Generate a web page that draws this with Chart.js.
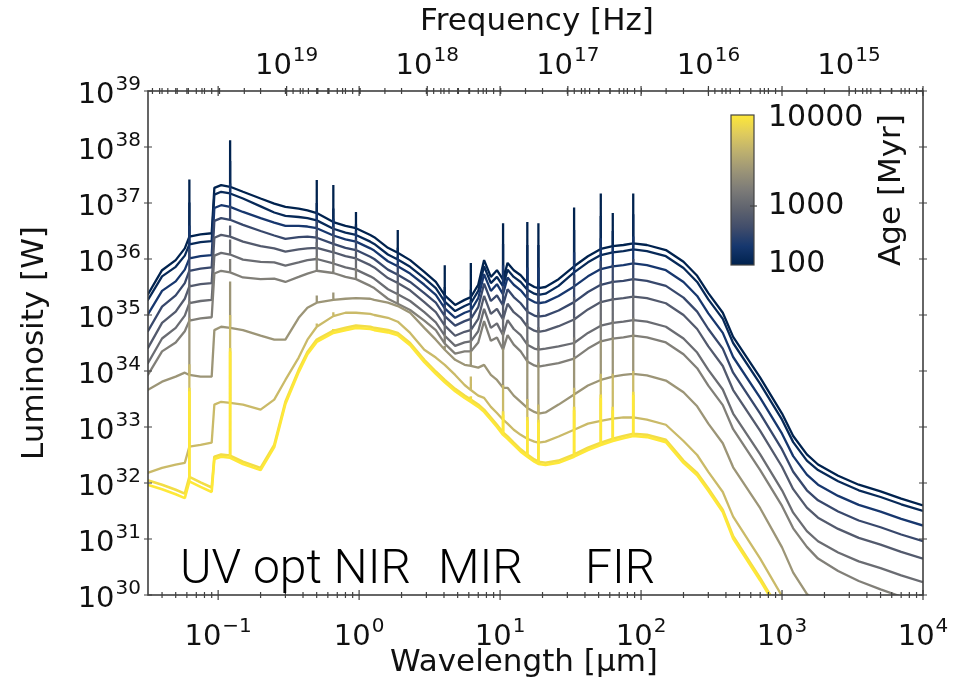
<!DOCTYPE html>
<html>
<head>
<meta charset="utf-8">
<title>SED vs age</title>
<script src="https://cdn.jsdelivr.net/npm/chart.js@4.4.0/dist/chart.umd.min.js"></script>
<style>
  html, body { margin: 0; padding: 0; background: #fff; }
  #wrap { width: 962px; height: 687px; }
</style>
</head>
<body>
<div id="wrap"><canvas id="sed" width="962" height="687"></canvas></div>
<script>
// wavelength grid [micron]
var wavelengths = [
  0.0316, 0.04, 0.05, 0.058, 0.0625, 0.075, 0.09, 0.094, 0.105, 0.1216,
  0.15, 0.2, 0.25, 0.3, 0.3727, 0.43, 0.5007, 0.6563, 0.8, 0.95,
  1.2, 1.28, 1.6, 1.88, 2.3, 2.9, 3.5, 4.05, 4.8, 5.6,
  6.2, 7.0, 7.7, 8.6, 9.5, 10.5, 11.3, 12.5, 14, 15.6,
  17.5, 18.7, 21, 26, 33.5, 42, 51.8, 63, 75, 88,
  110, 150, 200, 250, 300, 380, 450, 700, 1000, 1200, 1500, 1800, 2500, 3500, 5000, 7000, 10000
];

// emission lines (they sit on grid points)
var lineWavelengths = [0.0625, 0.1216, 0.5007, 0.6563, 0.95, 1.88, 4.05, 6.2, 10.5, 15.6, 18.7, 33.5, 51.8, 63, 88];

// ages of the models [Myr]
var ages = [100, 120, 180, 280, 450, 700, 1100, 1800, 4000, 8000, 10000];

// log10 luminosity [W] on the grid, one array per age
var logLum100 = [
  35.36, 35.80, 35.98, 36.19, 36.40, 36.44, 36.46, 37.27, 37.32, 37.29,
  37.20, 37.08, 36.99, 36.93, 36.90, 36.87, 36.82, 36.66, 36.59, 36.55,
  36.43, 36.39, 36.20, 36.11, 35.98, 35.77, 35.59, 35.35, 35.18, 35.27,
  35.32, 35.54, 35.98, 35.68, 35.80, 35.63, 35.93, 35.80, 35.71, 35.57,
  35.50, 35.48, 35.50, 35.64, 35.87, 36.05, 36.18, 36.23, 36.25, 36.28,
  36.25, 36.16, 35.95, 35.70, 35.39, 35.04, 34.61, 33.88, 33.24, 32.84, 32.51, 32.33, 32.13, 31.97, 31.85, 31.72, 31.60
];
var logLum120 = [
  35.26, 35.69, 35.86, 36.06, 36.26, 36.30, 36.32, 37.15, 37.20, 37.17,
  37.08, 36.94, 36.83, 36.77, 36.75, 36.73, 36.69, 36.54, 36.47, 36.43,
  36.31, 36.27, 36.08, 35.99, 35.86, 35.66, 35.48, 35.24, 35.07, 35.16,
  35.21, 35.43, 35.87, 35.57, 35.68, 35.51, 35.81, 35.68, 35.59, 35.45,
  35.38, 35.36, 35.38, 35.52, 35.76, 35.94, 36.07, 36.12, 36.14, 36.17,
  36.14, 36.05, 35.84, 35.59, 35.28, 34.93, 34.50, 33.77, 33.13, 32.73, 32.40, 32.23, 32.03, 31.87, 31.75, 31.62, 31.50
];
var logLum180 = [
  35.00, 35.43, 35.60, 35.81, 36.01, 36.05, 36.07, 36.91, 36.96, 36.93,
  36.84, 36.73, 36.65, 36.59, 36.59, 36.58, 36.55, 36.42, 36.35, 36.31,
  36.19, 36.15, 35.96, 35.87, 35.74, 35.54, 35.36, 35.12, 34.95, 35.04,
  35.08, 35.30, 35.73, 35.43, 35.55, 35.37, 35.67, 35.54, 35.44, 35.30,
  35.23, 35.21, 35.23, 35.34, 35.51, 35.69, 35.82, 35.87, 35.89, 35.92,
  35.89, 35.80, 35.59, 35.34, 35.03, 34.68, 34.25, 33.52, 32.88, 32.48, 32.15, 31.97, 31.77, 31.61, 31.49, 31.36, 31.24
];
var logLum280 = [
  34.70, 35.15, 35.35, 35.57, 35.79, 35.83, 35.85, 36.68, 36.73, 36.70,
  36.61, 36.50, 36.42, 36.36, 36.39, 36.40, 36.38, 36.27, 36.20, 36.16,
  36.04, 36.00, 35.81, 35.72, 35.59, 35.39, 35.22, 34.98, 34.81, 34.89,
  34.93, 35.14, 35.56, 35.25, 35.35, 35.17, 35.46, 35.32, 35.21, 35.06,
  34.99, 34.97, 34.99, 35.08, 35.23, 35.41, 35.54, 35.59, 35.61, 35.64,
  35.61, 35.52, 35.31, 35.06, 34.75, 34.40, 33.97, 33.24, 32.60, 32.20, 31.87, 31.69, 31.49, 31.33, 31.21, 31.08, 30.96
];
var logLum450 = [
  34.40, 34.86, 35.06, 35.29, 35.51, 35.55, 35.57, 36.38, 36.43, 36.40,
  36.31, 36.23, 36.19, 36.13, 36.17, 36.19, 36.20, 36.12, 36.05, 36.01,
  35.89, 35.85, 35.66, 35.57, 35.44, 35.23, 35.05, 34.81, 34.63, 34.70,
  34.73, 34.93, 35.34, 35.02, 35.11, 34.92, 35.20, 35.05, 34.95, 34.79,
  34.72, 34.70, 34.72, 34.80, 34.92, 35.10, 35.23, 35.28, 35.30, 35.33,
  35.30, 35.21, 35.00, 34.75, 34.44, 34.09, 33.66, 32.93, 32.29, 31.89, 31.56, 31.38, 31.18, 31.02, 30.90, 30.77, 30.65
];
var logLum700 = [
  34.13, 34.58, 34.77, 34.99, 35.21, 35.25, 35.27, 36.06, 36.11, 36.08,
  35.99, 35.95, 35.94, 35.88, 35.94, 35.98, 36.00, 35.92, 35.85, 35.81,
  35.69, 35.65, 35.46, 35.37, 35.25, 35.05, 34.87, 34.63, 34.45, 34.51,
  34.53, 34.71, 35.11, 34.77, 34.85, 34.64, 34.91, 34.75, 34.64, 34.47,
  34.40, 34.38, 34.40, 34.44, 34.50, 34.68, 34.81, 34.86, 34.88, 34.91,
  34.88, 34.79, 34.58, 34.33, 34.02, 33.67, 33.24, 32.51, 31.87, 31.47, 31.14, 30.96, 30.76, 30.60, 30.48, 30.35, 30.23
];
var logLum1100 = [
  33.92, 34.35, 34.51, 34.71, 34.90, 34.94, 34.96, 35.74, 35.79, 35.76,
  35.67, 35.64, 35.65, 35.59, 35.68, 35.74, 35.79, 35.75, 35.68, 35.64,
  35.52, 35.48, 35.29, 35.20, 35.09, 34.90, 34.73, 34.49, 34.31, 34.35,
  34.35, 34.51, 34.89, 34.54, 34.60, 34.38, 34.64, 34.47, 34.35, 34.17,
  34.10, 34.08, 34.10, 34.14, 34.22, 34.40, 34.53, 34.58, 34.60, 34.63,
  34.60, 34.51, 34.30, 34.05, 33.74, 33.39, 32.96, 32.23, 31.59, 31.19, 30.86, 30.65, 30.43, 30.25, 30.10, 29.97, 29.85
];
var logLum1800 = [
  33.66, 33.81, 33.90, 33.97, 33.93, 33.90, 33.90, 34.73, 34.79, 34.77,
  34.73, 34.63, 34.56, 34.56, 34.95, 35.13, 35.22, 35.27, 35.29, 35.30,
  35.29, 35.27, 35.22, 35.16, 35.04, 34.77, 34.56, 34.38, 34.20, 34.11,
  34.09, 34.06, 34.11, 33.93, 33.84, 33.70, 33.70, 33.56, 33.45, 33.34,
  33.27, 33.24, 33.26, 33.40, 33.58, 33.74, 33.84, 33.90, 33.93, 33.95,
  33.92, 33.83, 33.62, 33.37, 33.06, 32.71, 32.28, 31.55, 30.85, 30.40, 30.02, 29.84, 29.65, 29.47, 29.35, 29.22, 29.10
];
var logLum4000 = [
  32.18, 32.27, 32.33, 32.36, 32.65, 32.68, 32.72, 33.40, 33.45, 33.43,
  33.40, 33.31, 33.49, 33.84, 34.24, 34.56, 34.79, 34.98, 35.04, 35.04,
  35.02, 35.00, 34.95, 34.88, 34.68, 34.38, 34.24, 34.11, 33.93, 33.75,
  33.66, 33.56, 33.52, 33.36, 33.25, 33.13, 33.06, 32.95, 32.86, 32.79,
  32.74, 32.72, 32.74, 32.83, 32.95, 33.06, 33.11, 33.15, 33.17, 33.17,
  33.13, 33.04, 32.75, 32.50, 32.20, 31.84, 31.40, 30.65, 29.98, 29.59, 29.30, 29.09, 28.90, 28.73, 28.60, 28.48, 28.35
];
var logLum8000 = [
  32.05, 31.97, 31.88, 31.81, 32.11, 32.01, 31.92, 32.47, 32.51, 32.49,
  32.38, 32.27, 32.68, 33.45, 34.02, 34.34, 34.56, 34.72, 34.77, 34.81,
  34.79, 34.77, 34.73, 34.68, 34.50, 34.20, 33.99, 33.84, 33.68, 33.56,
  33.49, 33.40, 33.31, 33.17, 33.04, 32.90, 32.83, 32.72, 32.60, 32.51,
  32.42, 32.38, 32.36, 32.40, 32.51, 32.63, 32.72, 32.79, 32.84, 32.88,
  32.86, 32.77, 32.40, 32.18, 31.90, 31.52, 31.05, 30.30, 29.65, 29.27, 29.00, 28.78, 28.60, 28.45, 28.30, 28.17, 28.05
];
var logLum10000 = [
  31.97, 31.89, 31.80, 31.73, 32.03, 31.93, 31.84, 32.43, 32.47, 32.45,
  32.34, 32.23, 32.64, 33.41, 33.98, 34.30, 34.52, 34.68, 34.73, 34.77,
  34.75, 34.73, 34.69, 34.64, 34.46, 34.16, 33.95, 33.80, 33.64, 33.52,
  33.45, 33.36, 33.27, 33.13, 33.00, 32.86, 32.79, 32.68, 32.56, 32.47,
  32.38, 32.34, 32.32, 32.36, 32.47, 32.59, 32.68, 32.75, 32.80, 32.84,
  32.82, 32.73, 32.36, 32.14, 31.86, 31.48, 31.01, 30.26, 29.61, 29.23, 28.96, 28.74, 28.56, 28.41, 28.26, 28.13, 28.01
];

// log10 peak luminosity of each emission line, per age
var linePeak100   = [37.42, 38.12, 37.41, 37.32, 36.84, 36.52, 35.89, 35.93, 36.64, 36.66, 36.64, 36.92, 37.17, 36.82, 37.17];
var linePeak120   = [37.01, 37.75, 37.00, 36.90, 36.62, 36.20, 35.50, 35.45, 36.27, 36.25, 36.25, 36.52, 36.77, 36.50, 36.80];
var linePeak180   = [36.60, 37.35, 36.85, 36.72, 36.50, 36.05, 35.35, 35.25, 35.89, 35.85, 35.85, 36.12, 36.37, 36.20, 36.40];
var linePeak280   = [36.18, 36.95, 36.68, 36.58, 36.36, 35.92, 35.18, 35.10, 35.52, 35.45, 35.45, 35.72, 35.97, 35.90, 36.00];
var linePeak450   = [35.80, 36.60, 36.50, 36.42, 36.20, 35.76, 35.00, 34.95, 35.20, 35.10, 35.05, 35.32, 35.60, 35.62, 35.66];
var linePeak700   = [35.55, 36.35, 36.30, 36.22, 36.02, 35.58, 34.82, 34.75, 34.95, 34.85, 34.78, 34.95, 35.25, 35.30, 35.35];
var linePeak1100  = [35.25, 36.00, 36.05, 36.00, 35.84, 35.38, 34.65, 34.55, 34.70, 34.55, 34.45, 34.60, 34.90, 34.90, 34.95];
var linePeak1800  = [34.95, 35.60, 35.35, 35.40, 35.30, 35.16, 34.45, 34.35, 34.40, 34.20, 34.15, 34.25, 34.55, 34.60, 34.65];
var linePeak4000  = [34.12, 35.00, 34.85, 35.05, 35.04, 34.88, 34.11, 33.90, 33.75, 33.50, 33.40, 33.70, 33.95, 33.95, 34.00];
var linePeak8000  = [33.70, 34.41, 34.56, 34.75, 34.81, 34.68, 33.84, 33.55, 33.28, 33.18, 33.13, 33.36, 33.58, 33.36, 33.63];
var linePeak10000 = [33.64, 34.35, 34.52, 34.70, 34.77, 34.64, 33.80, 33.50, 33.22, 33.12, 33.08, 33.30, 33.52, 33.30, 33.57];

var continua = [logLum100, logLum120, logLum180, logLum280, logLum450, logLum700,
                logLum1100, logLum1800, logLum4000, logLum8000, logLum10000];
var peaks = [linePeak100, linePeak120, linePeak180, linePeak280, linePeak450, linePeak700,
             linePeak1100, linePeak1800, linePeak4000, linePeak8000, linePeak10000];

// cividis-like colour map
var cividisStops = [
  [0.000, [0, 34, 78]],
  [0.125, [22, 55, 110]],
  [0.250, [65, 77, 107]],
  [0.375, [95, 99, 110]],
  [0.500, [124, 123, 120]],
  [0.625, [155, 148, 119]],
  [0.750, [188, 175, 111]],
  [0.875, [223, 203, 93]],
  [1.000, [254, 232, 56]]
];
function cividis(t) {
  t = Math.max(0, Math.min(1, t));
  for (var i = 1; i < cividisStops.length; i++) {
    if (t <= cividisStops[i][0]) {
      var a = cividisStops[i - 1], b = cividisStops[i];
      var f = (t - a[0]) / (b[0] - a[0]);
      var c = [0, 1, 2].map(function (k) { return Math.round(a[1][k] + f * (b[1][k] - a[1][k])); });
      return 'rgb(' + c.join(',') + ')';
    }
  }
  return 'rgb(254,232,56)';
}
function ageToT(age) { return Math.log10(age / 100) / 2; }

function buildPoints(cont, peak) {
  var pts = [];
  for (var i = 0; i < wavelengths.length; i++) {
    var wl = wavelengths[i];
    pts.push({x: wl, y: Math.pow(10, cont[i])});
    var j = lineWavelengths.indexOf(wl);
    if (j >= 0) {
      pts.push({x: wl, y: Math.pow(10, peak[j])});
      pts.push({x: wl, y: Math.pow(10, cont[i])});
    }
  }
  return pts;
}

var datasets = [];
for (var k = 0; k < ages.length; k++) {
  datasets.push({
    label: ages[k] + ' Myr',
    data: buildPoints(continua[k], peaks[k]),
    borderColor: cividis(ageToT(ages[k])),
    borderWidth: k >= 9 ? 2.6 : 2.3,
    pointRadius: 0,
    fill: false,
    order: ages.length - k   // older (yellow) drawn on top
  });
}

var FONT = '"DejaVu Sans", sans-serif';

// "10" with a superscript exponent
function drawPower(ctx, exp, x, y, align) {
  ctx.textAlign = 'left';
  ctx.textBaseline = 'alphabetic';
  ctx.font = '29px ' + FONT;
  var wb = ctx.measureText('10').width;
  ctx.font = '20px ' + FONT;
  var ws = ctx.measureText(exp).width;
  var total = wb + ws + 1;
  var left = align === 'right' ? x - total : x - total / 2;
  ctx.font = '29px ' + FONT;
  ctx.fillText('10', left, y);
  ctx.font = '20px ' + FONT;
  ctx.fillText(exp, left + wb + 1, y - 13);
}
function expText(e) { return (e < 0 ? '\u2212' : '') + Math.abs(e); }

var decorPlugin = {
  id: 'decor',
  afterDraw: function (chart) {
    var ctx = chart.ctx, a = chart.chartArea;
    var xs = chart.scales.x, xt = chart.scales.x2, ys = chart.scales.y;
    ctx.save();
    ctx.strokeStyle = '#404040';
    ctx.fillStyle = '#111';

    // frame
    ctx.lineWidth = 1.6;
    ctx.strokeRect(a.left, a.top, a.right - a.left, a.bottom - a.top);

    // wavelength ticks (bottom, mirrored on top)
    ctx.lineWidth = 1.2;
    ctx.beginPath();
    for (var e = -2; e <= 4; e++) {
      for (var m = 1; m <= 9; m++) {
        var v = m * Math.pow(10, e);
        if (v < xs.min || v > xs.max) continue;
        var px = xs.getPixelForValue(v);
        var len = m === 1 ? 5 : 3;
        ctx.moveTo(px, a.bottom - len); ctx.lineTo(px, a.bottom + len);
        ctx.moveTo(px, a.top - len); ctx.lineTo(px, a.top + len);
      }
    }
    // frequency ticks (top)
    for (var f = 14; f <= 20; f++) {
      for (var n = 1; n <= 9; n++) {
        var fv = n * Math.pow(10, f);
        if (fv < xt.min || fv > xt.max) continue;
        var fx = xt.getPixelForValue(fv);
        var fl = n === 1 ? 5 : 3;
        ctx.moveTo(fx, a.top - fl); ctx.lineTo(fx, a.top + fl);
      }
    }
    // luminosity ticks (left and right)
    for (var p = 30; p <= 39; p++) {
      var py = ys.getPixelForValue(Math.pow(10, p));
      ctx.moveTo(a.left - 4, py); ctx.lineTo(a.left + 4, py);
      ctx.moveTo(a.right - 4, py); ctx.lineTo(a.right + 4, py);
    }
    ctx.stroke();

    // tick labels
    for (var yl = 30; yl <= 39; yl++) {
      drawPower(ctx, String(yl), 141, ys.getPixelForValue(Math.pow(10, yl)) + 12, 'right');
    }
    for (var xl = -1; xl <= 4; xl++) {
      drawPower(ctx, expText(xl), xs.getPixelForValue(Math.pow(10, xl)), 645, 'center');
    }
    for (var tl = 15; tl <= 19; tl++) {
      drawPower(ctx, String(tl), xt.getPixelForValue(Math.pow(10, tl)), 74, 'center');
    }

    // axis titles
    ctx.font = '31px ' + FONT;
    ctx.textAlign = 'center';
    ctx.textBaseline = 'middle';
    ctx.fillText('Wavelength [\u03bcm]', 524, 663);
    ctx.fillText('Frequency [Hz]', 537, 22);
    ctx.save();
    ctx.translate(35, 343);
    ctx.rotate(-Math.PI / 2);
    ctx.fillText('Luminosity [W]', 0, 0);
    ctx.restore();

    // band labels
    ctx.font = '300 48px Roboto, "Liberation Sans", sans-serif';
    ctx.textAlign = 'left';
    ctx.textBaseline = 'alphabetic';
    ctx.fillStyle = '#000';
    ctx.fillText('UV opt NIR', 180, 583);
    ctx.fillText('MIR', 438, 583);
    ctx.fillText('FIR', 585, 583);

    // colour bar
    var cbL = 731, cbR = 754, cbT = 115, cbB = 265;
    var grad = ctx.createLinearGradient(0, cbB, 0, cbT);
    cividisStops.forEach(function (s) {
      grad.addColorStop(s[0], 'rgb(' + s[1].join(',') + ')');
    });
    ctx.fillStyle = grad;
    ctx.fillRect(cbL, cbT, cbR - cbL, cbB - cbT);
    ctx.strokeStyle = '#444';
    ctx.lineWidth = 1.2;
    ctx.strokeRect(cbL, cbT, cbR - cbL, cbB - cbT);
    ctx.beginPath();
    ctx.moveTo(cbR - 4, 206); ctx.lineTo(cbR + 3, 206);
    ctx.stroke();
    ctx.fillStyle = '#111';
    ctx.font = '30px ' + FONT;
    ctx.textAlign = 'left';
    ctx.textBaseline = 'middle';
    ctx.fillText('10000', 768, 118);
    ctx.fillText('1000', 768, 206);
    ctx.fillText('100', 768, 264);
    ctx.save();
    ctx.translate(892, 190);
    ctx.rotate(-Math.PI / 2);
    ctx.textAlign = 'center';
    ctx.font = '31px ' + FONT;
    ctx.fillText('Age [Myr]', 0, 0);
    ctx.restore();

    ctx.restore();
  }
};

new Chart(document.getElementById('sed'), {
  type: 'line',
  data: { datasets: datasets },
  options: {
    responsive: false,
    animation: false,
    devicePixelRatio: 1,
    layout: { padding: { left: 0, right: 39, top: 0, bottom: 0 } },
    plugins: { legend: { display: false }, tooltip: { enabled: false } },
    elements: { point: { radius: 0 }, line: { tension: 0, borderJoinStyle: 'bevel' } },
    scales: {
      x: {
        type: 'logarithmic', position: 'bottom', min: 0.0318, max: 1e4,
        ticks: { display: false }, grid: { display: false }, border: { display: false },
        afterFit: function (s) { s.height = 92; }
      },
      x2: {
        type: 'logarithmic', position: 'top', reverse: true,
        min: Math.pow(10, 14.474), max: Math.pow(10, 19.986),
        ticks: { display: false }, grid: { display: false }, border: { display: false },
        afterFit: function (s) { s.height = 91; }
      },
      y: {
        type: 'logarithmic', min: 1e30, max: 1e39,
        ticks: { display: false }, grid: { display: false }, border: { display: false },
        afterFit: function (s) { s.width = 148; }
      }
    }
  },
  plugins: [decorPlugin]
});
</script>
</body>
</html>
